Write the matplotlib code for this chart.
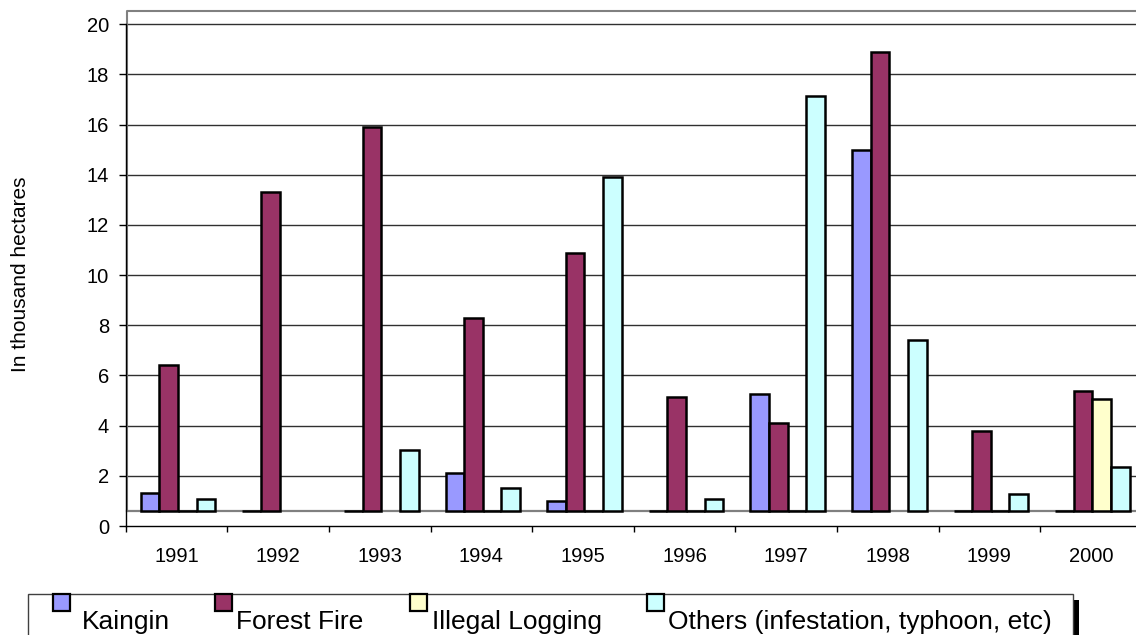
import matplotlib.pyplot as plt
from matplotlib.patches import Rectangle

plt.rcParams['font.family'] = ['Liberation Sans', 'DejaVu Sans']

years = ['1991', '1992', '1993', '1994', '1995', '1996', '1997', '1998', '1999', '2000']
# None = no bar drawn, 0 = flat bar on the floor
kaingin = [1.32, 0, 0, 2.1, 0.99, 0, 5.27, 15.0, 0, 0]
forest_fire = [6.43, 13.31, 15.9, 8.28, 10.9, 5.14, 4.09, 18.88, 3.78, 5.38]
illegal_logging = [0, None, None, 0, 0, 0, 0, None, 0, 5.08]
others = [1.08, None, 3.01, 1.53, 13.93, 1.09, 17.14, 7.43, 1.26, 2.34]

series = [
    ('Kaingin', kaingin, '#9999FF'),
    ('Forest Fire', forest_fire, '#993366'),
    ('Illegal Logging', illegal_logging, '#FFFFCC'),
    ('Others (infestation, typhoon, etc)', others, '#CCFFFF'),
]

W, H = 1136, 635
FLOOR = 0.58
TOP = 20.57

fig = plt.figure(figsize=(W / 100, H / 100), dpi=100)
ax = fig.add_axes([125.7 / W, (H - 526) / H, 1016 / W, 516 / H])
ax.set_xlim(-0.5, 9.5)
ax.set_ylim(0, TOP)

# back wall, grid and floor
wall_x = -0.5 + 1.5 / 101.6
for v in range(2, 21, 2):
    ax.plot([wall_x, 9.5], [v, v], color='#303030', lw=1.0, zorder=1, clip_on=False)
ax.plot([wall_x, wall_x, 9.6], [FLOOR, TOP - 0.03, TOP - 0.03], color='#808080', lw=1.5,
        zorder=1, clip_on=False)
ax.plot([wall_x, 9.6], [FLOOR, FLOOR], color='#808080', lw=1.6, zorder=1, clip_on=False)

bw = 0.1836
for k, (name, vals, col) in enumerate(series):
    for i, v in enumerate(vals):
        if v is None:
            continue
        x = i + 0.015 + (k - 1.5) * bw
        ax.bar(x, max(v - FLOOR, 0), width=bw, bottom=FLOOR, color=col,
               edgecolor='black', linewidth=1.8, zorder=3)

for s in ['top', 'right']:
    ax.spines[s].set_visible(False)
ax.spines['left'].set_bounds(0, 20)
ax.spines['left'].set_linewidth(1.0)
ax.spines['bottom'].set_linewidth(1.0)

ax.set_yticks(range(0, 21, 2))
ax.tick_params(axis='y', direction='out', length=5, width=1, pad=7, labelsize=14.5)
ax.set_xticks(range(len(years)))
ax.set_xticklabels(years)
ax.set_xticks([i - 0.5 for i in range(len(years) + 1)], minor=True)
ax.tick_params(axis='x', which='major', length=0, pad=15, labelsize=14.5)
ax.tick_params(axis='x', which='minor', direction='out', length=4.5, width=1)

fig.text(21 / W, 1 - 274 / H, 'In thousand hectares', rotation=90,
         ha='center', va='center', fontsize=15)

# legend box drawn by hand (Excel style, cut by the bottom edge)
def px(x, y):
    return x / W, (H - y) / H

fig.add_artist(Rectangle(px(1073.5, 640), 5.5 / W, 40 / H, transform=fig.transFigure,
                         facecolor='black', edgecolor='none'))
fig.add_artist(Rectangle(px(28, 640), (1073 - 28) / W, 46 / H, transform=fig.transFigure,
                         facecolor='white', edgecolor='#404040', lw=1.0))
mark_x = [53, 215, 410, 647]
text_x = [82, 236, 432, 668]
for (name, vals, col), mx, tx in zip(series, mark_x, text_x):
    fig.add_artist(Rectangle(px(mx, 611), 17 / W, 17 / H, transform=fig.transFigure,
                             facecolor=col, edgecolor='black', lw=1.6))
    fig.text(tx / W, (H - 629) / H, name, ha='left', va='baseline', fontsize=19)

fig.savefig('out.png', dpi=100)
